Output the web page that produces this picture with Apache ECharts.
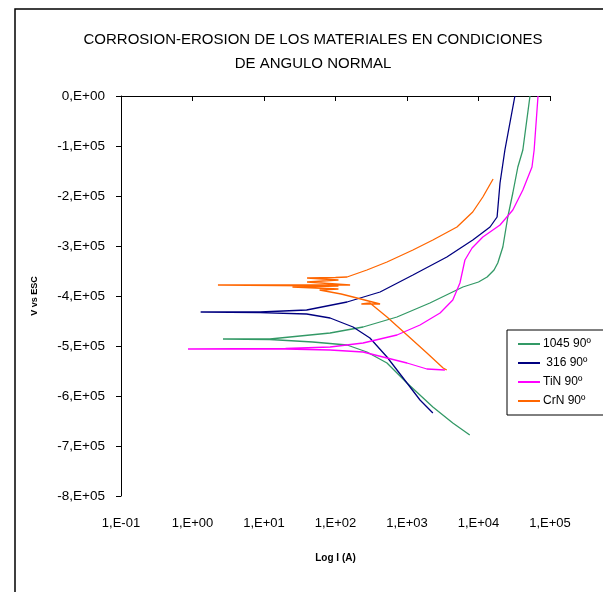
<!DOCTYPE html>
<html><head><meta charset="utf-8">
<script src="https://cdn.jsdelivr.net/npm/echarts@6/dist/echarts.min.js"></script>
<style>html,body{margin:0;padding:0;background:#fff}#c{width:603px;height:592px}</style>
</head><body><div id="c"></div>
<script>
var FONT = '"Liberation Sans Narrow","Liberation Sans",Arial,sans-serif';
var seriesNames = ['1045 90º', ' 316 90º', 'TiN 90º', 'CrN 90º'];
var seriesColors = ['#339966', '#000080', '#FF00FF', '#FF6600'];
var xTicks = [0.1, 1, 10, 100, 1000, 10000, 100000];
var yTicks = [0, -100000, -200000, -300000, -400000, -500000, -600000, -700000, -800000];

// [current, potential]
var s1045 = [[7550,-678000],[4370,-654000],[2300,-622000],[1000,-574000],[525,-534000],[275,-512000],[145,-498000],[48,-492000],[12.1,-487000],[2.67,-486000],[12.1,-486000],[16.7,-484000],[84,-474000],[243,-462000],[724,-442000],[2090,-414000],[6050,-382000],[10000,-372000],[13200,-362000],[16500,-348000],[18600,-334000],[21900,-302000],[25700,-242000],[30200,-194000],[35500,-142000],[41700,-108000],[52500,0]];
var s316 = [[2300,-634000],[1520,-608000],[1000,-574000],[525,-522000],[303,-484000],[176,-462000],[84,-444000],[39.5,-436000],[8.8,-433400],[1.30,-432000],[8.8,-432000],[39.5,-428000],[145,-412000],[420,-392000],[1210,-358000],[3610,-322000],[8320,-288000],[14500,-262000],[18200,-242000],[20000,-174000],[23400,-108000],[32300,0]];
var sTiN = [[3390,-548000],[1900,-546000],[1000,-534000],[525,-524000],[243,-512000],[84,-508000],[20,-506000],[0.865,-506000],[20,-505000],[84,-502000],[243,-494000],[724,-478000],[1520,-458000],[2900,-434000],[4370,-408000],[5500,-374000],[6460,-328000],[8130,-304000],[11500,-282000],[20000,-258000],[30200,-228000],[41700,-188000],[56000,-142000],[60000,-108000],[68000,0]];
var sCrN = [[3600,-548000],[3200,-544000],[1900,-514000],[1000,-478000],[525,-442000],[303,-414000],[230,-416000],[420,-416000],[176,-402000],[120,-396000],[60,-388000],[110,-386000],[25,-382000],[110,-380000],[2.27,-378000],[5,-378000],[160,-378000],[40,-372000],[110,-368000],[40,-364000],[100,-363000],[145,-362000],[275,-348000],[525,-332000],[1210,-308000],[2300,-288000],[5000,-262000],[8300,-232000],[11500,-202000],[16000,-166000]];
var seriesData = [s1045, s316, sTiN, sCrN];

function xFmt(v){
  var e = Math.round(Math.log10(v));
  var s = e < 0 ? '-' : '+';
  var a = Math.abs(e);
  return '1,E' + s + (a < 10 ? '0' : '') + a;
}
function yFmt(v){
  if (Math.abs(v) < 1) return '0,E+00';
  return '-' + Math.round(Math.abs(v)/100000) + ',E+05';
}

var chart = echarts.init(document.getElementById('c'), null, {renderer:'canvas'});
chart.setOption({
  animation: false,
  backgroundColor: '#fff',
  textStyle: {fontFamily: FONT},
  title: {
    text: 'CORROSION-EROSION DE LOS MATERIALES EN CONDICIONES\nDE ANGULO NORMAL',
    left: 308, top: 23, textAlign: 'center',
    textStyle: {fontFamily: FONT, fontSize: 15, fontWeight: 'normal', color: '#000', lineHeight: 24}
  },
  graphic: [{type:'rect', shape:{x:15, y:9, width:620, height:620}, style:{fill:null, stroke:'#000', lineWidth:1.5}, silent:true}],
  grid: {left:121, right:53, top:96, bottom:96},
  legend: {
    orient: 'vertical', left: 507, top: 330,
    data: seriesNames.map(function(n){return {name:n, icon:'rect'};}),
    itemWidth: 22, itemHeight: 2, itemGap: 7,
    borderColor: '#000', borderWidth: 1, padding: [8, 14, 8, 11],
    backgroundColor: '#fff',
    textStyle: {fontFamily: FONT, fontSize: 12, color: '#000', padding:[0,0,0,-2]}
  },
  xAxis: {
    type: 'log', logBase: 10, min: 0.1, max: 100000,
    name: 'Log I (A)', nameLocation: 'middle', nameGap: 57,
    nameTextStyle: {fontFamily: FONT, fontSize: 10, fontWeight: 'bold', color:'#000'},
    axisLine: {lineStyle:{color:'#000', width:1}},
    axisTick: {show:true, length:5, lineStyle:{color:'#000'}},
    axisLabel: {formatter: xFmt, margin: 21, fontSize: 13, color:'#000', fontFamily: FONT, showMinLabel:true, showMaxLabel:true},
    splitLine: {show:false}, minorTick:{show:false}
  },
  yAxis: {
    type: 'value', min: -800000, max: 0, interval: 100000,
    name: 'V vs ESC', nameLocation: 'middle', nameGap: 82, nameRotate: 90,
    nameTextStyle: {fontFamily: FONT, fontSize: 9, fontWeight: 'bold', color:'#000'},
    axisLine: {show:true, lineStyle:{color:'#000', width:1}},
    axisTick: {show:true, length:5, lineStyle:{color:'#000'}},
    axisLabel: {formatter: yFmt, margin: 16, fontSize: 13.5, color:'#000', fontFamily: FONT},
    splitLine: {show:false}
  },
  series: seriesData.map(function(d, i){
    return {
      name: seriesNames[i], type: 'line', data: d, symbol: 'none', smooth: false,
      lineStyle: {color: seriesColors[i], width: 1.3},
      itemStyle: {color: seriesColors[i]}
    };
  })
});
</script></body></html>
